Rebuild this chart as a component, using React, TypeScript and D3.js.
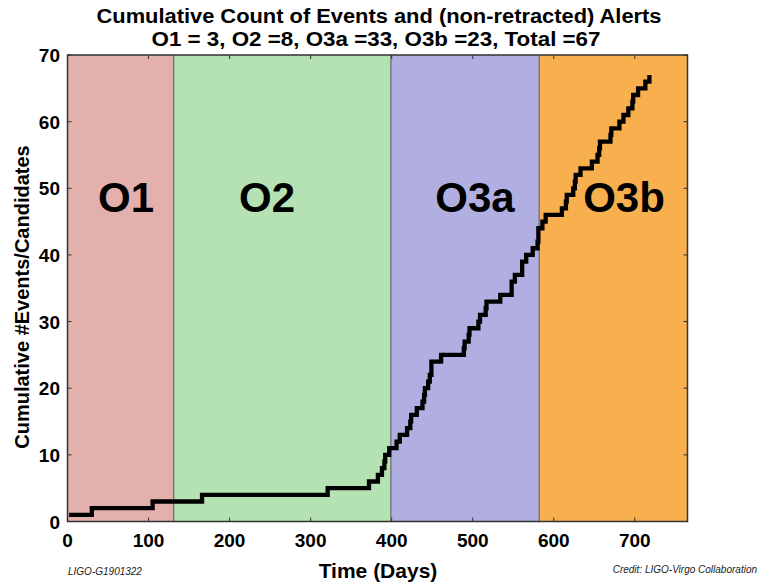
import React, { useEffect, useRef } from "react";
import * as d3 from "d3";

// observing runs (in observation days, runs stacked back to back)
const runNames = ["O1", "O2", "O3a", "O3b"];
const runEdges = [0, 131, 399, 582, 765];
const runColors = ["#e3b0ac", "#b4e2b2", "#b1aee2", "#f8b04e"];

// day of each event / non-retracted alert
const eventDays = [
  2, 30, 105,
  166, 321, 372, 383, 388, 391, 392, 397,
  406, 410, 419, 423, 424, 431, 438, 440, 441, 445, 447, 449, 449, 461, 489,
  490, 495, 496, 507, 509, 516, 517, 534, 548, 548, 552, 561, 561, 566, 574,
  580, 581, 581,
  586, 590, 610, 615, 616, 624, 626, 627, 633, 647, 654, 656, 657, 670, 671,
  681, 686, 692, 697, 698, 704, 713, 718,
];
const cumulativeCounts = [
  1, 2, 3,
  4, 5, 6, 7, 8, 9, 10, 11,
  12, 13, 14, 15, 16, 17, 18, 19, 20, 21, 22, 23, 24, 25, 26,
  27, 28, 29, 30, 31, 32, 33, 34, 35, 36, 37, 38, 39, 40, 41,
  42, 43, 44,
  45, 46, 47, 48, 49, 50, 51, 52, 53, 54, 55, 56, 57, 58, 59,
  60, 61, 62, 63, 64, 65, 66, 67,
];
const xTicks = [0, 100, 200, 300, 400, 500, 600, 700];
const yTicks = [0, 10, 20, 30, 40, 50, 60, 70];

const FONT = "'Liberation Sans', Arial, Helvetica, sans-serif";

const App = () => {
  const ref = useRef(null);

  useEffect(() => {
    document.body.style.margin = "0";
    const svg = d3.select(ref.current);
    svg.selectAll("*").remove();

    const left = 67.5, right = 687.5, top = 55, bottom = 521.5;
    const x = d3.scaleLinear().domain([0, 765]).range([left, right]);
    const y = d3.scaleLinear().domain([0, 70]).range([bottom, top]);

    // run backgrounds
    svg
      .selectAll("rect.run")
      .data(runNames)
      .enter()
      .append("rect")
      .attr("class", "run")
      .attr("x", (d, i) => x(runEdges[i]))
      .attr("y", top)
      .attr("width", (d, i) => x(runEdges[i + 1]) - x(runEdges[i]))
      .attr("height", bottom - top)
      .attr("fill", (d, i) => runColors[i]);

    // dividers between runs
    svg
      .selectAll("line.div")
      .data(runEdges.slice(1, -1))
      .enter()
      .append("line")
      .attr("x1", (d) => x(d))
      .attr("x2", (d) => x(d))
      .attr("y1", top)
      .attr("y2", bottom)
      .attr("stroke", "#666")
      .attr("stroke-width", 1.2);

    // run labels
    const labelCenters = [126, 267, 475, 624];
    svg
      .selectAll("text.run")
      .data(runNames)
      .enter()
      .append("text")
      .attr("x", (d, i) => labelCenters[i])
      .attr("y", 212)
      .attr("text-anchor", "middle")
      .attr("font-family", FONT)
      .attr("font-weight", "bold")
      .attr("font-size", 42)
      .attr("fill", "#000")
      .text((d) => d);

    // frame
    svg
      .append("rect")
      .attr("x", left)
      .attr("y", top)
      .attr("width", right - left)
      .attr("height", bottom - top)
      .attr("fill", "none")
      .attr("stroke", "#333")
      .attr("stroke-width", 1.5);

    // inward ticks
    const tickG = svg.append("g").attr("stroke", "#333").attr("stroke-width", 1);
    xTicks.forEach((t) => {
      tickG.append("line").attr("x1", x(t)).attr("x2", x(t)).attr("y1", top).attr("y2", top + 4);
      tickG.append("line").attr("x1", x(t)).attr("x2", x(t)).attr("y1", bottom).attr("y2", bottom - 4);
    });
    yTicks.forEach((t) => {
      tickG.append("line").attr("x1", left).attr("x2", left + 4).attr("y1", y(t)).attr("y2", y(t));
      tickG.append("line").attr("x1", right).attr("x2", right - 4).attr("y1", y(t)).attr("y2", y(t));
    });

    // step line
    const pts = eventDays.map((d, i) => [d, cumulativeCounts[i]]);
    const line = d3
      .line()
      .x((d) => x(d[0]))
      .y((d) => y(d[1]))
      .curve(d3.curveStepAfter);
    svg
      .append("path")
      .datum(pts)
      .attr("fill", "none")
      .attr("stroke", "#000")
      .attr("stroke-width", 4.3)
      .attr("stroke-linejoin", "miter")
      .attr("d", line);

    // axes labels
    svg
      .selectAll("text.xt")
      .data(xTicks)
      .enter()
      .append("text")
      .attr("x", (d) => x(d))
      .attr("y", 547)
      .attr("text-anchor", "middle")
      .attr("font-family", FONT)
      .attr("font-weight", "bold")
      .attr("font-size", 19)
      .text((d) => d);

    svg
      .selectAll("text.yt")
      .data(yTicks)
      .enter()
      .append("text")
      .attr("x", 60)
      .attr("y", (d) => y(d) + 7)
      .attr("text-anchor", "end")
      .attr("font-family", FONT)
      .attr("font-weight", "bold")
      .attr("font-size", 19)
      .text((d) => d);

    svg
      .append("text")
      .attr("x", 378)
      .attr("y", 578)
      .attr("text-anchor", "middle")
      .attr("font-family", FONT)
      .attr("font-weight", "bold")
      .attr("font-size", 21)
      .text("Time (Days)");

    svg
      .append("text")
      .attr("transform", "translate(29,297) rotate(-90)")
      .attr("text-anchor", "middle")
      .attr("font-family", FONT)
      .attr("font-weight", "bold")
      .attr("font-size", 20)
      .text("Cumulative #Events/Candidates");

    // titles
    svg
      .append("text")
      .attr("x", 379)
      .attr("y", 23)
      .attr("text-anchor", "middle")
      .attr("font-family", FONT)
      .attr("font-weight", "bold")
      .attr("font-size", 20)
      .attr("textLength", 565)
      .attr("lengthAdjust", "spacingAndGlyphs")
      .text("Cumulative Count of Events and (non-retracted) Alerts");

    svg
      .append("text")
      .attr("x", 376)
      .attr("y", 46)
      .attr("text-anchor", "middle")
      .attr("font-family", FONT)
      .attr("font-weight", "bold")
      .attr("font-size", 20)
      .attr("textLength", 449)
      .attr("lengthAdjust", "spacingAndGlyphs")
      .text("O1 = 3, O2 =8, O3a =33, O3b =23, Total =67");

    // footer
    svg
      .append("text")
      .attr("x", 68)
      .attr("y", 575)
      .attr("font-family", FONT)
      .attr("font-style", "italic")
      .attr("font-size", 10)
      .attr("fill", "#222")
      .text("LIGO-G1901322");

    svg
      .append("text")
      .attr("x", 757)
      .attr("y", 573)
      .attr("text-anchor", "end")
      .attr("font-family", FONT)
      .attr("font-style", "italic")
      .attr("font-size", 10)
      .attr("fill", "#222")
      .text("Credit: LIGO-Virgo Collaboration");
  }, []);

  return <svg ref={ref} width={760} height={584} style={{ display: "block" }} />;
};

export default App;
